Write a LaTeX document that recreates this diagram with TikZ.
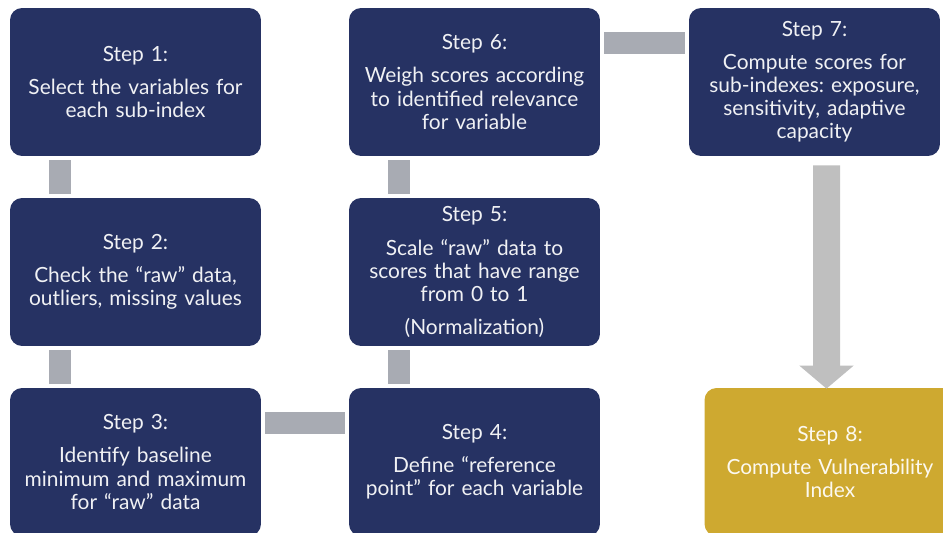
\documentclass[tikz,border=0pt]{standalone}
\usepackage{fontspec}
\setmainfont{Lato}
\usetikzlibrary{calc,arrows.meta}

\definecolor{stepnavy}{HTML}{263263}
\definecolor{stepgold}{HTML}{CEA930}
\definecolor{bargray}{HTML}{A8ABB3}
\definecolor{arrowgray}{HTML}{BFBFBF}

\begin{document}
\frenchspacing
\begin{tikzpicture}[x=0.02cm, y=-0.02cm,
    stepbox/.style={fill=stepnavy, rounded corners=0.24cm, minimum width=5.02cm,
        minimum height=2.96cm, inner sep=2pt, text width=4.85cm, align=center,
        text=white!93!stepnavy, font=\fontsize{11.9}{13.1}\selectfont},
    finalbox/.style={stepbox, fill=stepgold, text=white!93!stepgold},
    bar/.style={draw=bargray, line width=0.44cm},
    bigarrow/.style={draw=arrowgray, line width=0.54cm,
        -{Triangle[width=1.06cm,length=0.46cm]}}]
    \useasboundingbox (0,0) rectangle (943,533);

    % Steps
    \node[stepbox] (s1) at (135.5,82) {Step 1:\\[5.7pt] Select the variables for\\ each sub-index};
    \node[stepbox] (s2) at (135.5,272) {Step 2:\\[5.7pt] Check the “raw” data,\\ outliers, missing values};
    \node[stepbox] (s3) at (135.5,462) {Step 3:\\[5.7pt] Identify baseline\\ minimum and maximum\\ for “raw” data};
    \node[stepbox] (s4) at (474.5,462) {Step 4:\\[5.7pt] Define “reference\\ point” for each variable};
    \node[stepbox] (s5) at (474.5,272) {Step 5:\\[5.7pt] Scale “raw” data to\\ scores that have range\\ from 0 to 1\\[5.7pt] (Normalization)};
    \node[stepbox] (s6) at (474.5,82) {Step 6:\\[5.7pt] Weigh scores according\\ to identified relevance\\ for variable};
    \node[stepbox] (s7) at (814.5,82) {Step 7:\\[5.7pt] Compute scores for\\ sub-indexes: exposure,\\ sensitivity, adaptive\\ capacity};
    \node[finalbox] (s8) at (830,462) {Step 8:\\[5.7pt] Compute Vulnerability\\ Index};

    % Bars between steps
    \draw[bar] ($(s1.south west)+(50,4)$) -- ($(s2.north west)+(50,-4)$);
    \draw[bar] ($(s2.south west)+(50,4)$) -- ($(s3.north west)+(50,-4)$);
    \draw[bar] ($(s3.north east)+(4,35.5)$) -- ($(s4.north west)+(-4,35.5)$);
    \draw[bar] ($(s4.north west)+(50,-4)$) -- ($(s5.south west)+(50,4)$);
    \draw[bar] ($(s5.north west)+(50,-4)$) -- ($(s6.south west)+(50,4)$);
    \draw[bar] ($(s6.north east)+(4,35)$) -- ($(s7.north west)+(-4,35)$);

    % Arrow to the index
    \draw[bigarrow] ($(s7.south)+(12,9)$) -- ($(s8.north)+(-3.5,1)$);
\end{tikzpicture}
\end{document}
